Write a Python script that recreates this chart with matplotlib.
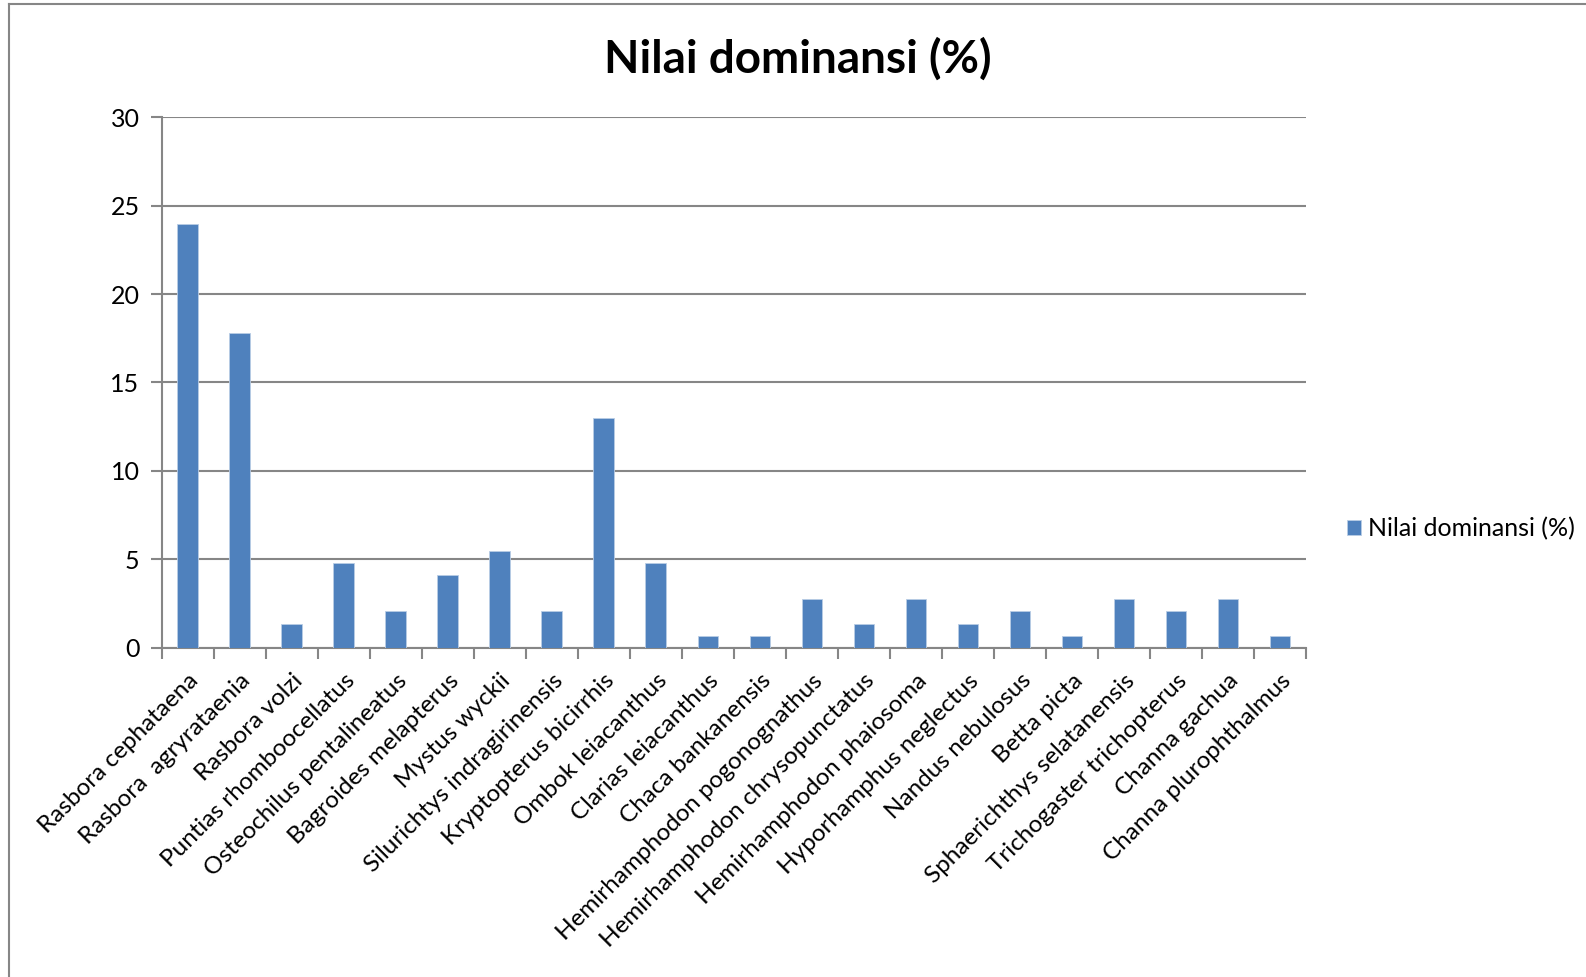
import matplotlib.pyplot as plt
import numpy as np
from matplotlib.lines import Line2D

plt.rcParams['font.family'] = ['Lato', 'DejaVu Sans']

species = ['Rasbora cephataena', 'Rasbora  agryrataenia', 'Rasbora volzi',
           'Puntias rhomboocellatus', 'Osteochilus pentalineatus', 'Bagroides melapterus',
           'Mystus wyckii', 'Silurichtys indragirinensis', 'Kryptopterus bicirrhis',
           'Ombok leiacanthus', 'Clarias leiacanthus', 'Chaca bankanensis',
           'Hemirhamphodon pogonognathus', 'Hemirhamphodon chrysopunctatus',
           'Hemirhamphodon phaiosoma', 'Hyporhamphus neglectus', 'Nandus nebulosus',
           'Betta picta', 'Sphaerichthys selatanensis', 'Trichogaster trichopterus',
           'Channa gachua', 'Channa plurophthalmus']
dominansi = [23.97, 17.81, 1.37, 4.79, 2.05, 4.11, 5.48, 2.05, 13.01, 4.79, 0.68,
             0.68, 2.74, 1.37, 2.74, 1.37, 2.05, 0.68, 2.74, 2.05, 2.74, 0.68]

grey = '#868686'
fig = plt.figure(figsize=(15.86, 9.77), dpi=100)
ax = fig.add_axes([0.102, 0.337, 0.7215, 0.543])

index = np.arange(len(species))
ax.bar(index, dominansi, width=0.4, color='#4F81BD', edgecolor='#B9CDE5',
       linewidth=0.6, label='Nilai dominansi (%)', zorder=3)

ax.set_xlim(-0.5, len(species) - 0.5)
ax.set_ylim(0, 30)
ax.set_yticks(np.arange(0, 31, 5))
ax.yaxis.grid(True, color=grey, linewidth=1.5, zorder=0)

# category boundaries as major ticks, names on minor ticks
ax.set_xticks(np.arange(-0.5, len(species)), [''] * (len(species) + 1))
ax.set_xticks(index, species, minor=True)
ax.tick_params(axis='x', which='minor', length=0, pad=16)
ax.tick_params(axis='x', which='major', length=8, width=1.5, color=grey, direction='out')
ax.tick_params(axis='y', length=8, width=1.5, color=grey, direction='out', labelsize=18, pad=8)
for lbl in ax.get_xticklabels(minor=True):
    lbl.set_rotation(45)
    lbl.set_ha('right')
    lbl.set_rotation_mode('anchor')
    lbl.set_fontsize(17.5)

for s in ['top', 'right']:
    ax.spines[s].set_visible(False)
for s in ['left', 'bottom']:
    ax.spines[s].set_color(grey)
    ax.spines[s].set_linewidth(1.5)

fig.suptitle('Nilai dominansi (%)', x=0.503, y=0.962, fontsize=33, fontweight='bold')

fig.legend(loc='center left', bbox_to_anchor=(0.835, 0.459), frameon=False,
           fontsize=18, handlelength=0.55, handleheight=0.55, handletextpad=0.3)

# outer chart border (left and top edges visible)
fig.add_artist(Line2D([0.0055, 0.0055], [0.0, 0.996], color=grey, linewidth=1.5))
fig.add_artist(Line2D([0.0055, 1.0], [0.996, 0.996], color=grey, linewidth=1.5))

plt.savefig('out.png', format='png')
